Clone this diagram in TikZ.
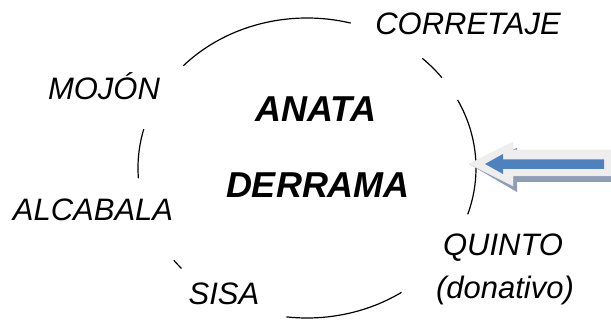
\documentclass[tikz,border=0pt]{standalone}
\usepackage{fontspec}
\setmainfont{Liberation Sans}
\definecolor{shadowgray}{RGB}{142,157,179}
\definecolor{lightfill}{RGB}{238,238,238}
\definecolor{arrowblue}{RGB}{79,129,189}
\begin{document}
\begin{tikzpicture}[x=1pt,y=1pt,
  lbl/.style={inner sep=0pt,anchor=base,font=\fontsize{31}{36}\selectfont\itshape},
  big/.style={inner sep=0pt,anchor=base,font=\fontsize{36}{42}\selectfont\bfseries\itshape},
  ring/.style={line width=1.2pt,black},
  arrshadow/.style={fill=shadowgray,draw=none},
  arrlight/.style={fill=lightfill,draw=black!8,line width=0.4pt},
  arrblue/.style={fill=arrowblue,draw=none}]
\useasboundingbox (0,0) rectangle (611,320);
\fill[white] (0,0) rectangle (611,320);
\coordinate (c) at (307,152);
% ring segments
\foreach \a/\b in {75/137, 37/47, -18/27, -97/-56, -142/-138, 165/184}
  \draw[ring] (c) ++(\a:169 and 150) arc[start angle=\a,end angle=\b,x radius=169,y radius=150];
% labels
\node[lbl] (corretaje) at (468,285) {CORRETAJE};
\node[lbl] (mojon) at (104,220) {MOJÓN};
\node[lbl] (alcabala) at (93,99) {ALCABALA};
\node[big] (anata) at (316,198) {ANATA};
\node[big] (derrama) at (318,122) {DERRAMA};
\node[lbl] (quinto) at (503,64) {QUINTO};
\node[lbl] (donativo) at (505,21) {(donativo)};
\node[lbl] (sisa) at (224,15) {SISA};
% arrow
\coordinate (lt) at (469,156);
\coordinate (bt) at (485,156);
\fill[arrshadow,shift={(4,-6)}] (lt) -- (513,178) -- (513,170) -- (613,170) -- (613,144) -- (513,144) -- (513,134) -- cycle;
\path[arrlight] (lt) -- (513,178) -- (513,170) -- (613,170) -- (613,144) -- (513,144) -- (513,134) -- cycle;
\path[arrblue] (bt) -- (503,166) -- (503,160.5) -- (604,160.5) -- (604,151) -- (503,151) -- (503,146) -- cycle;
\end{tikzpicture}
\end{document}
